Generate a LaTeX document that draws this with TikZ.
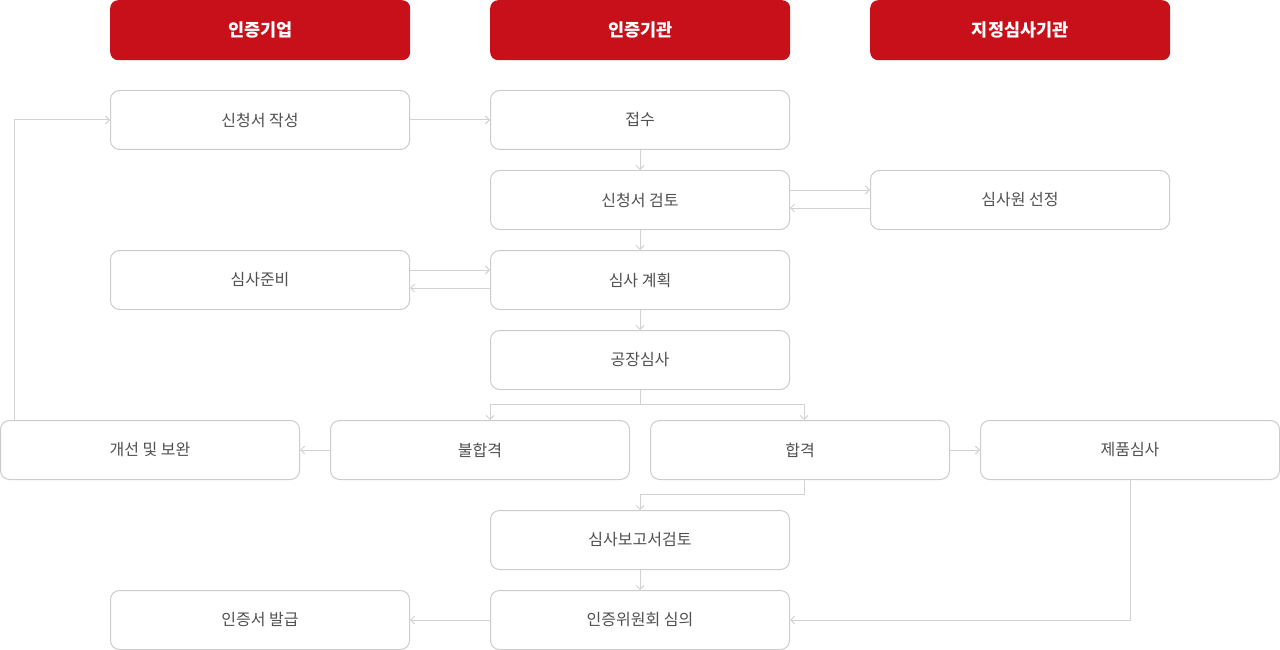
\documentclass[tikz,border=0pt]{standalone}
\usepackage{fontspec}
\setmainfont{Noto Sans CJK KR}
\usetikzlibrary{arrows.meta}
\definecolor{hdr}{HTML}{C8101A}
\definecolor{bx}{HTML}{CCCCCC}
\definecolor{ln}{HTML}{D2D2D2}
\definecolor{tx}{HTML}{505050}
\tikzset{
  hbox/.style={fill=hdr, rounded corners=8pt, minimum width=300pt, minimum height=60pt, inner sep=0pt, text=white, font=\fontsize{17.5pt}{20pt}\selectfont\bfseries, anchor=north west},
  sbox/.style={draw=bx, line width=1pt, fill=white, rounded corners=9pt, minimum width=299pt, minimum height=59pt, inner sep=0pt, text=tx, font=\fontsize{16pt}{19pt}\selectfont},
  conn/.style={draw=ln, line width=1pt, -{Straight Barb[length=4pt,width=8pt]}},
}
\begin{document}
\begin{tikzpicture}[x=1pt,y=-1pt]
\useasboundingbox (0,0) rectangle (1280,650);
% headers
\node[hbox] (h1) at (110,0) {인증기업};
\node[hbox] (h2) at (490,0) {인증기관};
\node[hbox] (h3) at (870,0) {지정심사기관};
% boxes
\node[sbox] (a) at (260,120) {신청서 작성};
\node[sbox] (b) at (640,120) {접수};
\node[sbox] (c) at (640,200) {신청서 검토};
\node[sbox] (d) at (1020,200) {심사원 선정};
\node[sbox] (e) at (260,280) {심사준비};
\node[sbox] (f) at (640,280) {심사 계획};
\node[sbox] (g) at (640,360) {공장심사};
\node[sbox] (i) at (150,450) {개선 및 보완};
\node[sbox] (j) at (480,450) {불합격};
\node[sbox] (k) at (800,450) {합격};
\node[sbox] (l) at (1130,450) {제품심사};
\node[sbox] (m) at (640,540) {심사보고서검토};
\node[sbox] (n) at (260,620) {인증서 발급};
\node[sbox] (o) at (640,620) {인증위원회 심의};
% connectors
\draw[conn] (a.east) -- (b.west);
\draw[conn] (b.south) -- (c.north);
\draw[conn] (c.east |- 0,190) -- (d.west |- 0,190);
\draw[conn] (d.west |- 0,208) -- (c.east |- 0,208);
\draw[conn] (c.south) -- (f.north);
\draw[conn] (e.east |- 0,270) -- (f.west |- 0,270);
\draw[conn] (f.west |- 0,288) -- (e.east |- 0,288);
\draw[conn] (f.south) -- (g.north);
\coordinate (gs) at (640,404);
\draw[draw=ln, line width=1pt] (g.south) -- (gs);
\draw[conn] (gs) -- (490,404) -- (490,420);
\draw[conn] (gs) -- (804,404) -- (804,420);
\draw[conn] (j.west) -- (i.east);
\draw[conn] (14,420) -- (14,120) -- (a.west);
\draw[conn] (k.east) -- (l.west);
\draw[conn] (804,480) -- (804,494) -- (640,494) -- (m.north);
\draw[conn] (m.south) -- (o.north);
\draw[conn] (o.west) -- (n.east);
\draw[conn] (1130,480) -- (1130,620) -- (o.east);
\end{tikzpicture}
\end{document}
